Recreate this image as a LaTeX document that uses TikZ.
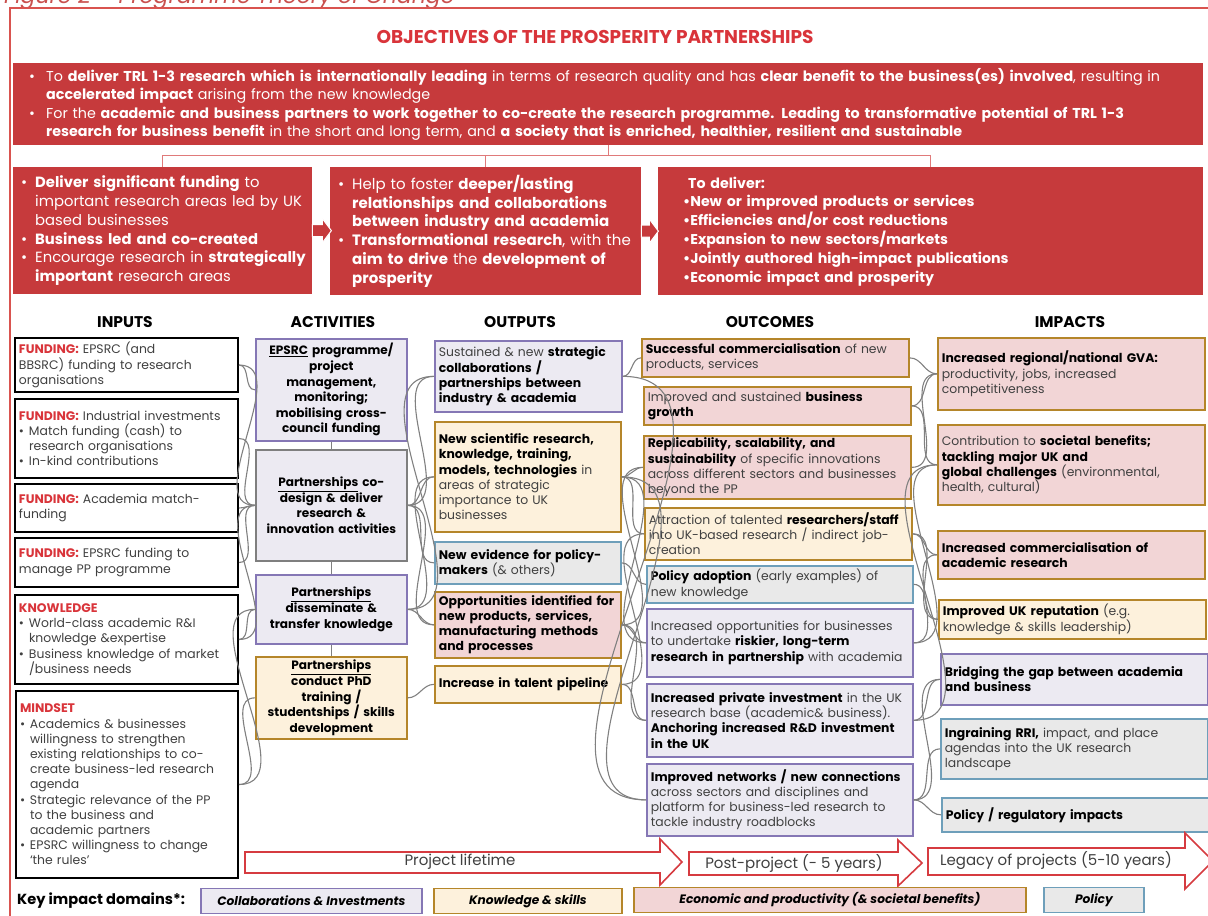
\documentclass[tikz,border=0pt]{standalone}
\usepackage{fontspec}
\setmainfont{Poppins}
\usetikzlibrary{calc}

\definecolor{hdr}{HTML}{C63A3C}
\definecolor{figred}{HTML}{C9504E}
\definecolor{framec}{HTML}{D9534F}
\definecolor{toplink}{HTML}{E07A7A}
\definecolor{inred}{HTML}{D9343A}
\definecolor{purpb}{HTML}{8577B5}
\definecolor{lav}{HTML}{ECEAF2}
\definecolor{goldb}{HTML}{B5862A}
\definecolor{cream}{HTML}{FDF1DC}
\definecolor{pinkf}{HTML}{F2D5D6}
\definecolor{blueb}{HTML}{6E9FBA}
\definecolor{grayf}{HTML}{E9E9E9}
\definecolor{grayb}{HTML}{7F7F7F}
\definecolor{txt}{HTML}{404040}
\definecolor{linkc}{HTML}{808080}
\definecolor{arrred}{HTML}{D63B40}

% bold emphasis inside the light boxes
\newcommand\kb{\bfseries\color{black}}
% bullets for the light boxes
\newcommand\bul{\makebox[10pt][l]{\textbullet}}
\newcommand\ind{\hspace*{10pt}}
% bullets for the red objective boxes
\newcommand\rbul{\hspace*{4pt}\makebox[14pt][l]{\textbullet}}
\newcommand\rind{\hspace*{18pt}}
\newcommand\tbul{\hspace*{12pt}\makebox[17pt][l]{\textbullet}}
\newcommand\tind{\hspace*{29pt}}
\newcommand\lab[1]{{\color{inred}\bfseries #1}}

% box from corner (x1,y1) to corner (x2,y2): name, style, x1, y1, x2, y2, text
\newcommand\bx[7]{%
  \pgfmathsetmacro\pbw{#5-#3}%
  \pgfmathsetmacro\pbh{#6-#4}%
  \pgfmathsetmacro\ptw{#5-#3-8}%
  \node[#2, anchor=north west, minimum width=\pbw pt, minimum height=\pbh pt,
        text width=\ptw pt] (#1) at (#3,#4) {#7};}

\tikzset{
  base/.style={inner xsep=4pt, inner ysep=1pt, line width=1.7pt, text=txt,
    align=left, font=\fontsize{12.4}{15.2}\selectfont},
  inbox/.style={base, draw=black, fill=white, line width=2pt},
  purp/.style={base, draw=purpb, fill=lav},
  grayx/.style={base, draw=grayb, fill=lav},
  goldc/.style={base, draw=goldb, fill=cream},
  goldp/.style={base, draw=goldb, fill=pinkf},
  bluex/.style={base, draw=blueb, fill=grayf},
  act/.style={align=center, text=black, font=\bfseries\fontsize{12.1}{15.6}\selectfont},
  redbox/.style={fill=hdr, draw=none, text=white, align=left, inner xsep=4pt,
    inner ysep=2pt},
  colhead/.style={font=\bfseries\fontsize{15.5}{17}\selectfont, text=black},
  link/.style={draw=linkc, line width=1.1pt},
  objlink/.style={draw=toplink, line width=1pt},
  tarrow/.style={draw=arrred, line width=1.6pt, fill=white, line join=miter},
  tltext/.style={font=\fontsize{15}{17}\selectfont, text=txt},
  keyb/.style={line width=1.8pt, minimum height=25pt, inner sep=0pt, text=black,
    font=\bfseries\itshape\fontsize{12.2}{14}\selectfont},
}

\begin{document}
\begin{tikzpicture}[x=1pt,y=-1pt]
\useasboundingbox (0,0) rectangle (1208,916);

% figure caption, running off the top edge
\node[anchor=base west, inner sep=0pt, text=figred,
      font=\itshape\fontsize{22}{24}\selectfont] (caption) at (4,3)
  {Figure 2 – Programme Theory of Change};

% outer frame
\draw[draw=framec, line width=1.3pt] (10,930) -- (10,8) -- (1220,8);

% ---------- objectives ----------
\node[text=inred, font=\bfseries\fontsize{18.5}{20}\selectfont] (objtitle) at (595,37)
  {OBJECTIVES OF THE PROSPERITY PARTNERSHIPS};

\bx{obj}{redbox, font=\fontsize{14.3}{18.4}\selectfont}{13}{63}{1203}{145}{%
\tbul To {\bfseries deliver TRL 1-3 research which is internationally leading} in terms of research quality and has {\bfseries clear benefit to the business(es) involved}, resulting in\\
\tind{\bfseries accelerated impact} arising from the new knowledge\\
\tbul For the {\bfseries academic and business partners to work together to co-create the research programme. Leading to transformative potential of TRL 1-3}\\
\tind{\bfseries research for business benefit} in the short and long term, and {\bfseries a society that is enriched, healthier, resilient and sustainable}}

\bx{objA}{redbox, font=\fontsize{14.8}{18.8}\selectfont}{13}{167}{312}{294}{%
\rbul{\bfseries Deliver significant funding} to\\
\rind important research areas led by UK\\
\rind based businesses\\
\rbul{\bfseries Business led and co-created}\\
\rbul Encourage research in {\bfseries strategically}\\
\rind{\bfseries important} research areas}

\bx{objB}{redbox, font=\fontsize{15}{18.8}\selectfont}{330}{167}{641}{295}{%
\rbul Help to foster {\bfseries deeper/lasting}\\
\rind{\bfseries relationships and collaborations}\\
\rind{\bfseries between industry and academia}\\
\rbul{\bfseries Transformational research}, with the\\
\rind{\bfseries aim to drive} the {\bfseries development of}\\
\rind{\bfseries prosperity}}

\bx{objC}{redbox, font=\bfseries\fontsize{14.2}{18.8}\selectfont}{658}{167}{1203}{295}{%
\hspace*{26pt}To deliver:\\
\hspace*{21pt}\textbullet New or improved products or services\\
\hspace*{21pt}\textbullet Efficiencies and/or cost reductions\\
\hspace*{21pt}\textbullet Expansion to new sectors/markets\\
\hspace*{21pt}\textbullet Jointly authored high-impact publications\\
\hspace*{21pt}\textbullet Economic impact and prosperity}

% branching lines from the main objective
\draw[objlink] (obj.south) -- ++(0,10) coordinate (hub);
\draw[objlink] (objA.north) |- (hub) -| (objC.north);
\draw[objlink] (objB.north) -- (objB.north |- hub);

% small block arrows between the three objective boxes
\draw[draw=white, fill=hdr, line width=1pt]
  ($(objA.east)+(0,-6)$) -- ++(10,0) -- ++(0,-6) -- ++(9,12) -- ++(-9,12)
  -- ++(0,-6) -- ++(-10,0) -- cycle;
\draw[draw=white, fill=hdr, line width=1pt]
  ($(objB.east)+(0,-6)$) -- ++(8,0) -- ++(0,-6) -- ++(9,12) -- ++(-9,12)
  -- ++(0,-6) -- ++(-8,0) -- cycle;

% ---------- column headings ----------
\node[colhead] (hIn)  at (125,322) {INPUTS};
\node[colhead] (hAct) at (333,322) {ACTIVITIES};
\node[colhead] (hOut) at (520,322) {OUTPUTS};
\node[colhead] (hOc)  at (770,322) {OUTCOMES};
\node[colhead] (hImp) at (1070,322) {IMPACTS};

% ---------- inputs ----------
\bx{in1}{inbox}{14}{337}{237}{391}{%
\lab{FUNDING:} EPSRC (and\\ BBSRC) funding to research\\ organisations}
\bx{in2}{inbox}{14}{398}{237}{477}{%
\lab{FUNDING:} Industrial investments\\
\bul Match funding (cash) to\\
\ind research organisations\\
\bul In-kind contributions}
\bx{in3}{inbox}{14}{483}{237}{531}{%
\lab{FUNDING:} Academia match-\\ funding}
\bx{in4}{inbox}{14}{537}{237}{586}{%
\lab{FUNDING:} EPSRC funding to\\ manage PP programme}
\bx{in5}{inbox}{14}{594}{237}{683}{%
\lab{KNOWLEDGE}\\
\bul World-class academic R\&I\\
\ind knowledge \&expertise\\
\bul Business knowledge of market\\
\ind /business needs}
\bx{in6}{inbox}{15}{690}{237}{877}{%
\lab{MINDSET}\\
\bul Academics \& businesses\\
\ind willingness to strengthen\\
\ind existing relationships to co-\\
\ind create business-led research\\
\ind agenda\\
\bul Strategic relevance of the PP\\
\ind to the business and\\
\ind academic partners\\
\bul EPSRC willingness to change\\
\ind ‘the rules’}

% ---------- activities ----------
\bx{a1}{purp,act}{255}{338}{406}{440}{%
\underline{EPSRC} programme/\\ project\\ management,\\ monitoring;\\ mobilising cross-\\ council funding}
\bx{a2}{grayx,act}{255}{449}{406}{560}{%
\underline{Partnerships} co-\\ design \& deliver\\ research \&\\ innovation activities}
\bx{a3}{purp,act}{255}{574}{406}{643}{%
\underline{Partnerships}\\ disseminate \&\\ transfer knowledge}
\bx{a4}{goldc,act}{255}{656}{406}{738}{%
\underline{Partnerships}\\ conduct PhD\\ training /\\ studentships / skills\\ development}

\draw[link] (a1.south) -- (a2.north);
\draw[link] (a2.south) -- (a3.north);
\draw[link] (a3.south) -- (a4.north);

% ---------- outputs ----------
\bx{o1}{purp}{434}{340}{621}{411}{%
Sustained \& new {\kb strategic\\ collaborations /\\ partnerships between\\ industry \& academia}}
\bx{o2}{goldc}{434}{421}{620}{531}{%
{\kb New scientific research,\\ knowledge, training,\\ models, technologies} in\\ areas of strategic\\ importance to UK\\ businesses}
\bx{o3}{bluex}{434}{541}{620}{583}{%
{\kb New evidence for policy-\\ makers} (\& others)}
\bx{o4}{goldp}{434}{591}{620}{657}{%
{\kb Opportunities identified for\\ new products, services,\\ manufacturing methods\\ and processes}}
\bx{o5}{goldc}{434}{665}{620}{702}{%
{\kb Increase in talent pipeline}}

% ---------- outcomes ----------
\bx{c1}{goldp}{641}{338}{908}{376}{%
{\kb Successful commercialisation} of new\\ products, services}
\bx{c2}{goldp}{643}{386}{910}{424}{%
Improved and sustained {\kb business\\ growth}}
\bx{c3}{goldp}{643}{435}{910}{498}{%
{\kb Replicability, scalability, and\\ sustainability} of specific innovations\\ across different sectors and businesses\\ beyond the PP}
\bx{c4}{goldc}{644}{507}{911}{559}{%
Attraction of talented {\kb researchers/staff}\\ into UK-based research / indirect job-\\ creation}
\bx{c5}{bluex}{646}{565}{912}{602}{%
{\kb Policy adoption} (early examples) of\\ new knowledge}
\bx{c6}{purp}{646}{608}{912}{676}{%
Increased opportunities for businesses\\ to undertake {\kb riskier, long-term\\ research in partnership} with academia}
\bx{c7}{purp}{646}{683}{912}{756}{%
{\kb Increased private investment} in the UK\\ research base (academic\& business).\\ {\kb Anchoring increased R\&D investment\\ in the UK}}
\bx{c8}{purp}{646}{763}{912}{835}{%
{\kb Improved networks / new connections}\\ across sectors and disciplines and\\ platform for business-led research to\\ tackle industry roadblocks}

% ---------- impacts ----------
\bx{m1}{goldp}{937}{337}{1204}{409}{%
{\kb Increased regional/national GVA:}\\ productivity, jobs, increased\\ competitiveness}
\bx{m2}{goldp}{937}{424}{1204}{504}{%
Contribution to {\kb societal benefits;\\ tackling major UK and\\ global challenges} (environmental,\\ health, cultural)}
\bx{m3}{goldp}{937}{530}{1204}{578}{%
{\kb Increased commercialisation of\\ academic research}}
\bx{m4}{goldc}{938}{599}{1205}{638}{%
{\kb Improved UK reputation} (e.g.\\ knowledge \& skills leadership)}
\bx{m5}{purp}{940}{653}{1207}{704}{%
{\kb Bridging the gap between academia\\ and business}}
\bx{m6}{bluex}{940}{718}{1207}{778}{%
{\kb Ingraining RRI,} impact, and place\\ agendas into the UK research\\ landscape}
\bx{m7}{bluex}{941}{797}{1208}{831}{%
{\kb Policy / regulatory impacts}}

% ---------- links: inputs to activities ----------
\foreach \s/\t in {in1/a1, in1/a2, in2/a2, in3/a2, in4/a2, in5/a2, in5/a3, in6/a3, in6/a4}
  \draw[link] (\s.east) to[out=0, in=180] (\t.west);

% ---------- links: activities to outputs ----------
\foreach \s/\t in {a2/o1, a2/o2, a2/o3, a2/o4, a3/o1, a3/o2, a3/o4, a4/o5}
  \draw[link] (\s.east) to[out=0, in=180] (\t.west);

% ---------- links: outputs to outcomes ----------
\foreach \s/\t in {o1/c1, o1/c8, o2/c3, o2/c4, o2/c6, o2/c8, o3/c5, o4/c3, o4/c6, o4/c7, o5/c4, o5/c7}
  \draw[link] (\s.east) to[out=0, in=180] (\t.west);

% ---------- links: outcomes to impacts ----------
\foreach \s/\t in {c1/m1, c2/m1, c2/m2, c3/m1, c4/m3, c4/m4, c5/m4, c6/m2, c6/m3, c7/m2, c7/m5, c8/m5, c8/m6, c8/m7}
  \draw[link] (\s.east) to[out=0, in=180] (\t.west);

% ---------- time line ----------
\draw[tarrow] (245,852) -- (660,852) -- (660,839) -- (682,862) -- (660,885)
  -- (660,873) -- (245,873) -- cycle;
\node[tltext] (tl1) at (460,862) {Project lifetime};
\draw[tarrow] (689,852) -- (898,852) -- (898,840) -- (922,863) -- (898,886)
  -- (898,875) -- (689,875) -- cycle;
\node[tltext] (tl2) at (794,863) {Post-project (- 5 years)};
\draw[tarrow] (928,848) -- (1185,848) -- (1185,833) -- (1213,861) -- (1185,889)
  -- (1185,875) -- (928,875) -- cycle;
\node[tltext] (tl3) at (1056,861) {Legacy of projects (5-10 years)};

% ---------- key ----------
\node[anchor=west, inner sep=0pt, text=black, font=\bfseries\fontsize{14.6}{16}\selectfont]
  (keyt) at (17,901) {Key impact domains*:};
\node[keyb, draw=purpb, fill=lav, minimum width=221pt, anchor=west] (k1) at (200,901)
  {Collaborations \& Investments};
\node[keyb, draw=goldb, fill=cream, minimum width=188pt, anchor=west] (k2) at (433,901)
  {Knowledge \& skills};
\node[keyb, draw=goldb, fill=pinkf, minimum width=392pt, anchor=west] (k3) at (633,900)
  {Economic and productivity (\& societal benefits)};
\node[keyb, draw=blueb, fill=grayf, minimum width=100pt, anchor=west] (k4) at (1043,900)
  {Policy};
\end{tikzpicture}
\end{document}
